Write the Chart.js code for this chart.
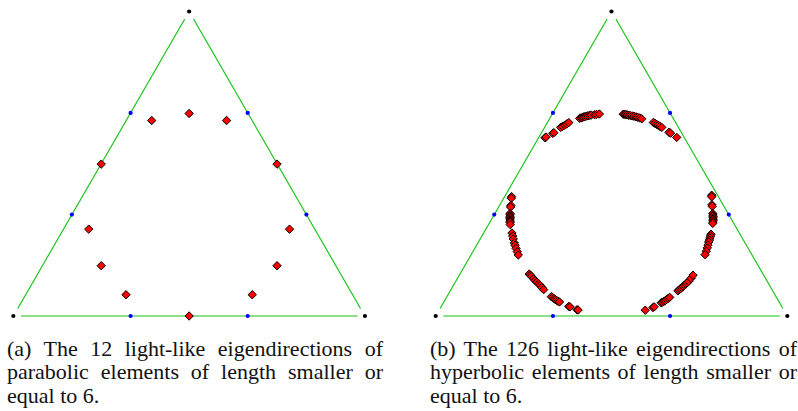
<!DOCTYPE html>
<html>
<head>
<meta charset="utf-8">
<script src="https://cdn.jsdelivr.net/npm/chart.js@4.4.1/dist/chart.umd.min.js"></script>
<style>
  html, body { margin: 0; padding: 0; background: #ffffff; }
  body { width: 798px; height: 411px; position: relative; overflow: hidden; }
  .panel { position: absolute; top: 0; }
  .cap { position: absolute; font-family: 'Liberation Serif', serif; font-size: 22px; line-height: 23.5px; color: #111; }
  .cap div { white-space: nowrap; }
  .cap div.j { text-align: justify; text-align-last: justify; white-space: normal; }
</style>
</head>
<body>
<div class="panel" style="left:0px;"><canvas id="c1" width="400" height="330"></canvas></div>
<div class="panel" style="left:400px;"><canvas id="c2" width="398" height="330"></canvas></div>
<div class="cap" id="capA" style="left:7px; top:336.5px; width:376px;"></div>
<div class="cap" id="capB" style="left:430px; top:336.5px; width:367px;"></div>
<script>
// ---- data (triangle coordinates: base from -1 to 1, apex at height sqrt(3)) ----
const vertexX = [-1, 1, 0];
const vertexY = [0, 0, 1.732];

const blueX = [-0.333, 0.333, -0.667, 0.667, -0.333, 0.333];
const blueY = [0, 0, 0.577, 0.577, 1.155, 1.155];

// green triangle sides (segment end points, with a gap at each vertex)
const sideLeftX = [-0.975, -0.025];
const sideLeftY = [0.043, 1.689];
const sideRightX = [0.025, 0.975];
const sideRightY = [1.689, 0.043];
const sideBottomX = [-0.957, 0.958];
const sideBottomY = [0, 0];

// (a) 12 parabolic light-like eigendirections
const paraX = [0, -0.213, 0.213, -0.5, 0.5, -0.571, 0.571, -0.5, 0.5, -0.359, 0.359, 0];
const paraY = [1.152, 1.112, 1.112, 0.864, 0.864, 0.494, 0.494, 0.286, 0.286, 0.121, 0.121, 0];

// (b) 126 hyperbolic light-like eigendirections
const hypTopLeftX = [-0.378, -0.372, -0.334, -0.328, -0.289, -0.278, -0.266, -0.255, -0.243, -0.181, -0.173, -0.166, -0.159, -0.152, -0.143, -0.134, -0.124, -0.115, -0.096, -0.085, -0.069];
const hypTopLeftY = [1.014, 1.018, 1.039, 1.043, 1.073, 1.079, 1.085, 1.092, 1.100, 1.124, 1.127, 1.129, 1.132, 1.134, 1.137, 1.139, 1.141, 1.143, 1.145, 1.147, 1.149];
const hypTopRightX = [0.067, 0.074, 0.082, 0.090, 0.098, 0.108, 0.118, 0.128, 0.140, 0.149, 0.160, 0.172, 0.238, 0.247, 0.257, 0.266, 0.276, 0.286, 0.327, 0.336, 0.371];
const hypTopRightY = [1.148, 1.147, 1.146, 1.144, 1.142, 1.140, 1.138, 1.136, 1.133, 1.130, 1.127, 1.122, 1.101, 1.096, 1.090, 1.085, 1.079, 1.073, 1.045, 1.040, 1.016];
const hypLeftX = [-0.568, -0.570, -0.572, -0.574, -0.577, -0.577, -0.577, -0.577, -0.577, -0.577, -0.577, -0.577, -0.576, -0.566, -0.562, -0.559, -0.553, -0.549, -0.543, -0.536, -0.530];
const hypLeftY = [0.679, 0.670, 0.629, 0.620, 0.583, 0.576, 0.568, 0.560, 0.553, 0.546, 0.539, 0.532, 0.520, 0.472, 0.455, 0.438, 0.416, 0.402, 0.385, 0.366, 0.347];
const hypRightX = [0.570, 0.570, 0.571, 0.573, 0.576, 0.577, 0.578, 0.578, 0.578, 0.578, 0.577, 0.576, 0.566, 0.563, 0.560, 0.557, 0.553, 0.549, 0.545, 0.539, 0.532];
const hypRightY = [0.687, 0.678, 0.633, 0.624, 0.583, 0.575, 0.567, 0.559, 0.551, 0.543, 0.535, 0.527, 0.465, 0.455, 0.444, 0.432, 0.421, 0.404, 0.387, 0.368, 0.349];
const hypBottomLeftX = [-0.468, -0.462, -0.455, -0.443, -0.434, -0.424, -0.414, -0.405, -0.396, -0.386, -0.342, -0.335, -0.327, -0.320, -0.312, -0.304, -0.296, -0.243, -0.236, -0.196, -0.190];
const hypBottomLeftY = [0.239, 0.232, 0.225, 0.212, 0.202, 0.193, 0.183, 0.174, 0.162, 0.150, 0.110, 0.105, 0.099, 0.094, 0.089, 0.084, 0.080, 0.055, 0.052, 0.036, 0.034];
const hypBottomRightX = [0.192, 0.236, 0.243, 0.283, 0.290, 0.298, 0.306, 0.314, 0.322, 0.331, 0.378, 0.385, 0.392, 0.400, 0.408, 0.415, 0.423, 0.430, 0.439, 0.452, 0.464];
const hypBottomRightY = [0.033, 0.048, 0.052, 0.075, 0.079, 0.083, 0.088, 0.094, 0.100, 0.106, 0.143, 0.149, 0.155, 0.162, 0.168, 0.175, 0.182, 0.189, 0.197, 0.214, 0.232];

const captionA = [
  "(a) The 12 light-like eigendirections of",
  "parabolic elements of length smaller or",
  "equal to 6."
];
const captionB = [
  "(b) The 126 light-like eigendirections of",
  "hyperbolic elements of length smaller or",
  "equal to 6."
];

// ---- helpers ----
function pts(xs, ys) { return xs.map((x, i) => ({ x: x, y: ys[i] })); }

const hypX = [].concat(hypTopLeftX, hypTopRightX, hypLeftX, hypRightX, hypBottomLeftX, hypBottomRightX);
const hypY = [].concat(hypTopLeftY, hypTopRightY, hypLeftY, hypRightY, hypBottomLeftY, hypBottomRightY);

const GREEN = 'rgb(24,196,24)';

function lineDs(xs, ys) {
  return { data: pts(xs, ys), showLine: true, borderColor: GREEN, borderWidth: 1.2, pointRadius: 0, fill: false, order: 4, clip: false };
}

function buildChart(id, redX, redY, xmin, xmax) {
  return new Chart(document.getElementById(id), {
    type: 'scatter',
    data: {
      datasets: [
        { data: pts(redX, redY), pointStyle: 'rectRot', pointRadius: 4.2, backgroundColor: '#ff0000', borderColor: '#000000', borderWidth: 1, order: 1, clip: false },
        { data: pts(blueX, blueY), pointStyle: 'circle', pointRadius: 2.1, backgroundColor: '#0000ff', borderWidth: 0, order: 2, clip: false },
        { data: pts(vertexX, vertexY), pointStyle: 'circle', pointRadius: 2.1, backgroundColor: '#000000', borderWidth: 0, order: 3, clip: false },
        lineDs(sideLeftX, sideLeftY),
        lineDs(sideRightX, sideRightY),
        lineDs(sideBottomX, sideBottomY)
      ]
    },
    options: {
      responsive: false,
      animation: false,
      devicePixelRatio: 1,
      layout: { padding: 0, autoPadding: false },
      plugins: { legend: { display: false }, tooltip: { enabled: false } },
      scales: {
        x: { type: 'linear', display: false, min: xmin, max: xmax },
        y: { type: 'linear', display: false, min: -0.0796, max: 1.7975 }
      }
    }
  });
}

buildChart('c1', paraX, paraY, -1.0759, 1.1994);
buildChart('c2', hypX, hypY, -1.2031, 1.0609);

function fillCaption(el, lines) {
  lines.forEach((t, i) => {
    const d = document.createElement('div');
    if (i < lines.length - 1) d.className = 'j';
    d.textContent = t;
    el.appendChild(d);
  });
}
fillCaption(document.getElementById('capA'), captionA);
fillCaption(document.getElementById('capB'), captionB);
</script>
</body>
</html>
